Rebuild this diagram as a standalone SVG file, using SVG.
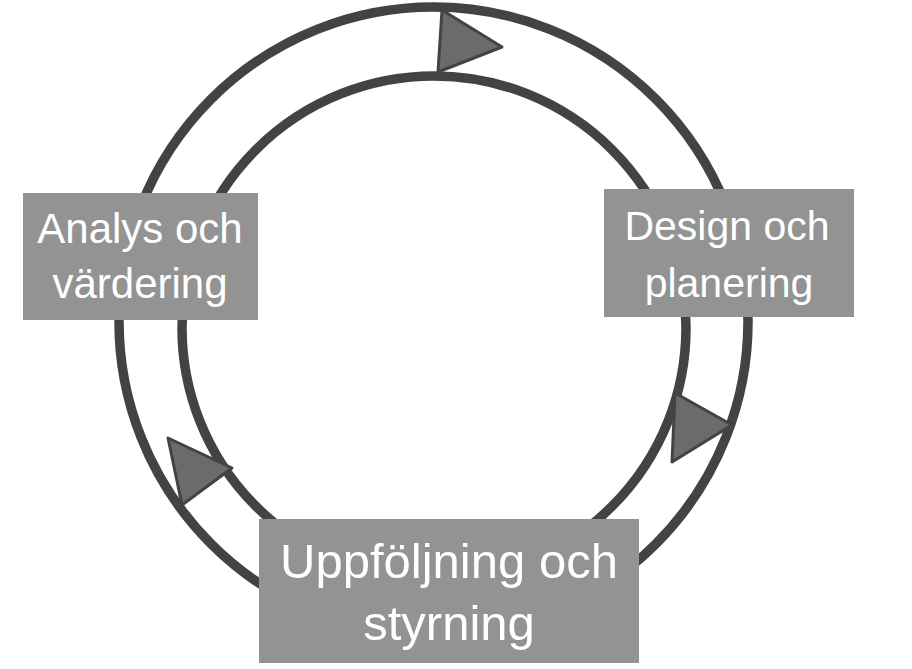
<svg xmlns="http://www.w3.org/2000/svg" width="912" height="669" viewBox="0 0 912 669">
  <style>
    .ring { fill: none; stroke: #434343; stroke-width: 9.5; }
    .arrow { fill: #6b6b6b; stroke: #434343; stroke-width: 3; stroke-linejoin: round; }
    .box { fill: #939393; }
    .label { fill: #ffffff; font-family: "Liberation Sans", Arial, sans-serif; text-anchor: middle; }
  </style>
  <rect width="912" height="669" fill="#ffffff"/>
  <g id="connectors">
    <circle class="ring" cx="433.5" cy="321.5" r="314.5"/>
    <circle class="ring" cx="434" cy="328" r="252"/>
    <polygon class="arrow" points="442,10 502,47 438,72"/>
    <polygon class="arrow" points="675,393 732,425 672,462"/>
    <polygon class="arrow" points="168,438 232,468 182,505"/>
  </g>
  <g id="node-analys">
    <rect class="box" x="23" y="193" width="235" height="127"/>
    <text class="label" font-size="42" x="140" y="243">Analys och</text>
    <text class="label" font-size="42" x="140" y="298">värdering</text>
  </g>
  <g id="node-design">
    <rect class="box" x="604" y="189" width="250" height="128"/>
    <text class="label" font-size="41" x="727" y="240">Design och</text>
    <text class="label" font-size="41" x="729" y="297">planering</text>
  </g>
  <g id="node-uppfoljning">
    <rect class="box" x="259" y="519" width="380" height="144"/>
    <text class="label" font-size="49" x="449" y="578">Uppföljning och</text>
    <text class="label" font-size="49" x="449" y="640">styrning</text>
  </g>
</svg>
